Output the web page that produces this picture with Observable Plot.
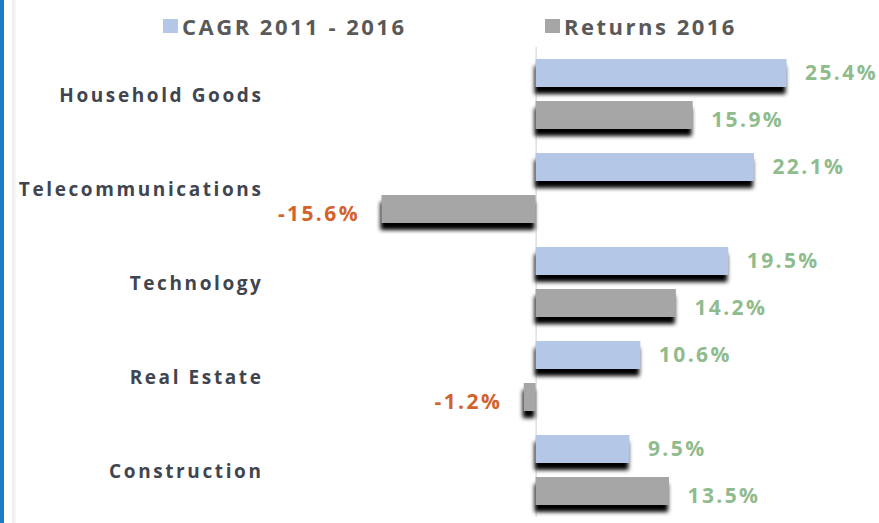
<!DOCTYPE html>
<html>
<head>
<meta charset="utf-8">
<script src="https://cdn.jsdelivr.net/npm/d3@7"></script>
<script src="https://cdn.jsdelivr.net/npm/@observablehq/plot@0.6"></script>
<style>
  html, body { margin: 0; padding: 0; background: #ffffff; }
  #wrap { position: relative; width: 879px; height: 523px; overflow: hidden; background: #fff; font-family: "Open Sans", sans-serif; }
  #edge { position: absolute; left: 0; top: 0; width: 4px; height: 523px; background: #1b7bc4; }
  #edge2 { position: absolute; left: 12px; top: 0; width: 4px; height: 523px; background: linear-gradient(to right, #ededed, #f7f7f7); }
  #legend { position: relative; height: 44px; }
  .item { position: absolute; top: 11px; display: flex; align-items: center; font-weight: 700; font-size: 22px; color: #595959; letter-spacing: 2.5px; }
  .sw { width: 15px; height: 14px; margin-right: 4px; }
</style>
</head>
<body>
<div id="wrap">
  <div id="edge"></div>
  <div id="edge2"></div>
  <div id="legend"></div>
  <div id="chart"></div>
</div>
<script>
const categories = ["Household Goods", "Telecommunications", "Technology", "Real Estate", "Construction"];
const seriesNames = ["CAGR 2011 - 2016", "Returns 2016"];
const cagr = [25.4, 22.1, 19.5, 10.6, 9.5];
const returns2016 = [15.9, -15.6, 14.2, -1.2, 13.5];
const seriesColors = ["#b4c7e7", "#a6a6a6"];

const data = categories.flatMap((c, i) => [
  {cat: c, series: seriesNames[0], value: cagr[i]},
  {cat: c, series: seriesNames[1], value: returns2016[i]}
]);

// legend
const legend = document.getElementById("legend");
const legendLeft = [163, 545];
seriesNames.forEach((s, i) => {
  const it = document.createElement("div");
  it.className = "item";
  it.style.left = legendLeft[i] + "px";
  const sw = document.createElement("span");
  sw.className = "sw";
  sw.style.background = seriesColors[i];
  const tx = document.createElement("span");
  tx.textContent = s;
  it.appendChild(sw); it.appendChild(tx);
  legend.appendChild(it);
});

const labelMark = (series, positive, dy) => Plot.text(
  data.filter(d => d.series === series && (d.value >= 0) === positive),
  {
    x: "value", y: "series", fy: "cat",
    text: d => d.value.toFixed(1) + "%",
    textAnchor: positive ? "start" : "end",
    dx: positive ? 18 : -22, dy,
    fill: positive ? "#8fbb8d" : "#d4622c",
    fontSize: 21, fontWeight: 700
  }
);

const chart = Plot.plot({
  width: 879, height: 479,
  marginTop: 2, marginBottom: 5, marginLeft: 338, marginRight: 47,
  x: {domain: [-20, 30], axis: null},
  y: {domain: seriesNames, axis: null, paddingInner: 0.33, paddingOuter: 0.26},
  fy: {domain: categories, padding: 0, axis: null, label: null},
  color: {domain: seriesNames, range: seriesColors},
  style: {fontFamily: "Open Sans", background: "transparent", overflow: "visible"},
  marks: [
    Plot.ruleX([0], {stroke: "#cfcfcf", strokeWidth: 1}),
    Plot.barX(data, {x: "value", y: "series", fy: "cat", fill: "#010101", dx: -1, dy: 7}),
    Plot.barX(data, {x: "value", y: "series", fy: "cat", fill: "series"}),
    Plot.text(categories, {fy: d => d, text: d => d, frameAnchor: "left", textAnchor: "end", dx: -75, dy: 1, fill: "#404550", fontSize: 19, fontWeight: 700}),
    labelMark(seriesNames[0], true, 0),
    labelMark(seriesNames[0], false, 0),
    labelMark(seriesNames[1], true, 5),
    labelMark(seriesNames[1], false, 5)
  ]
});

document.getElementById("chart").appendChild(chart);
const svg = d3.select(chart.tagName.toLowerCase() === "svg" ? chart : chart.querySelector("svg"));
const defs = svg.insert("defs", ":first-child");
defs.append("filter").attr("id", "shadowBlur").attr("x", "-20%").attr("y", "-60%").attr("width", "140%").attr("height", "220%")
  .append("feGaussianBlur").attr("stdDeviation", 2.2);
svg.selectAll('[fill="#010101"]').attr("filter", "url(#shadowBlur)");
svg.selectAll("text").each(function() {
  const fs = parseFloat(getComputedStyle(this).fontSize);
  if (Math.round(fs) === 19) this.style.letterSpacing = "2.6px";
  else if (Math.round(fs) === 21) this.style.letterSpacing = "2.4px";
});
</script>
</body>
</html>
